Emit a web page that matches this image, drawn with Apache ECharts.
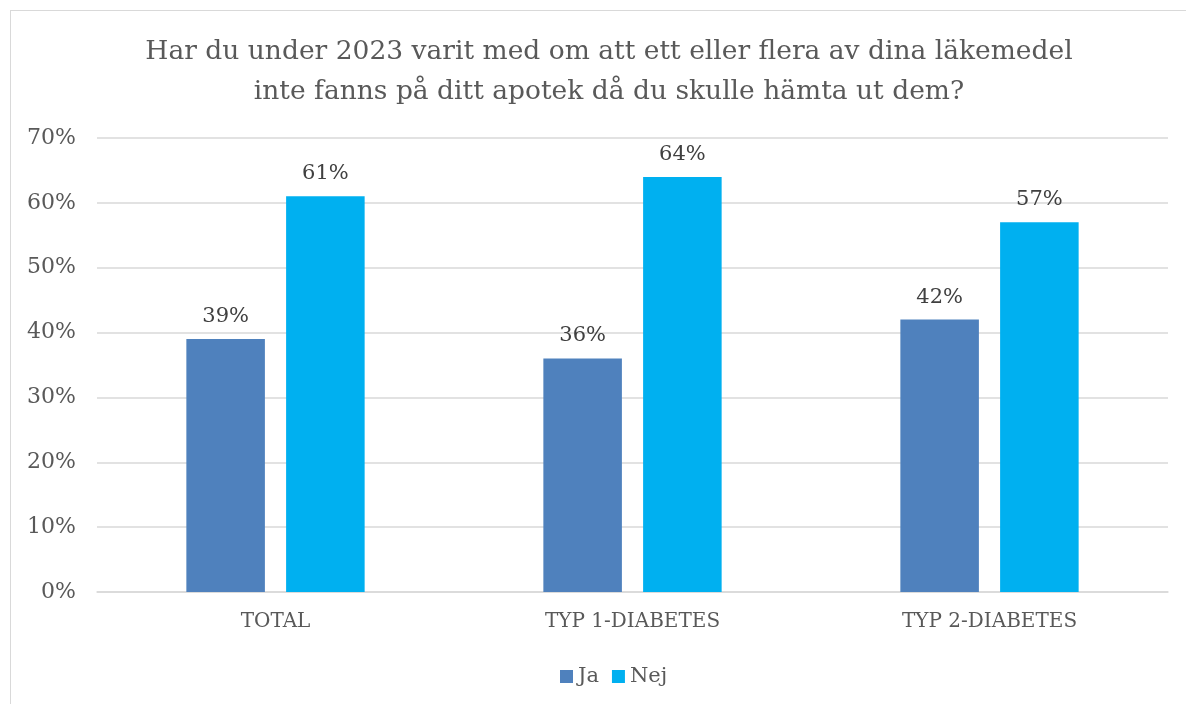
<!DOCTYPE html>
<html>
<head>
<meta charset="utf-8">
<script src="https://cdn.jsdelivr.net/npm/echarts@6/dist/echarts.min.js"></script>
<style>
  html, body { margin: 0; padding: 0; background: #fff; }
  #frame { position: absolute; left: 10px; top: 10px; width: 1190px; height: 710px; border: 1px solid #d9d9d9; box-sizing: border-box; }
  #chart { position: absolute; left: 0; top: 0; width: 1186px; height: 704px; }
</style>
</head>
<body>
<div id="frame"></div>
<div id="chart"></div>
<script>
  // kategorier och värden (procent)
  var categories = ['TOTAL', 'TYP 1-DIABETES', 'TYP 2-DIABETES'];
  var jaValues = [39, 36, 42];
  var nejValues = [61, 64, 57];
  var seriesNames = ['Ja', 'Nej'];

  var font = '"DejaVu Serif", "Liberation Serif", serif';

  var chart = echarts.init(document.getElementById('chart'));

  var option = {
    animation: false,
    title: {
      text: 'Har du under 2023 varit med om att ett eller flera av dina läkemedel\ninte fanns på ditt apotek då du skulle hämta ut dem?',
      left: 604,
      textAlign: 'center',
      top: 27,
      textStyle: {
        fontFamily: font,
        fontWeight: 'normal',
        fontSize: 26.5,
        lineHeight: 40,
        color: '#595959'
      }
    },
    legend: {
      data: seriesNames,
      bottom: 12,
      left: 555,
      itemWidth: 13,
      itemHeight: 13,
      itemGap: 13,
      icon: 'rect',
      textStyle: { fontFamily: font, fontSize: 21, color: '#595959' }
    },
    grid: {
      left: 97,
      right: 18,
      top: 138,
      bottom: 112,
      containLabel: false
    },
    xAxis: {
      type: 'category',
      data: categories,
      axisTick: { show: false },
      axisLine: { lineStyle: { color: '#d9d9d9', width: 1.5 } },
      axisLabel: { fontFamily: font, fontSize: 20, color: '#595959', margin: 20 }
    },
    yAxis: {
      type: 'value',
      min: 0,
      max: 70,
      interval: 10,
      axisLine: { show: false },
      axisTick: { show: false },
      splitLine: { lineStyle: { color: '#d9d9d9', width: 1.5 } },
      axisLabel: {
        fontFamily: font, fontSize: 22, color: '#595959', margin: 21,
        formatter: '{value}%'
      }
    },
    series: [
      {
        name: seriesNames[0],
        type: 'bar',
        data: jaValues,
        barWidth: '22%',
        barGap: '27%',
        itemStyle: { color: '#4f81bd' },
        label: {
          show: true, position: 'top', distance: 12,
          formatter: '{c}%',
          fontFamily: font, fontSize: 21, color: '#404040'
        }
      },
      {
        name: seriesNames[1],
        type: 'bar',
        data: nejValues,
        barWidth: '22%',
        itemStyle: { color: '#00b0f0' },
        label: {
          show: true, position: 'top', distance: 12,
          formatter: '{c}%',
          fontFamily: font, fontSize: 21, color: '#404040'
        }
      }
    ]
  };

  chart.setOption(option);
</script>
</body>
</html>
